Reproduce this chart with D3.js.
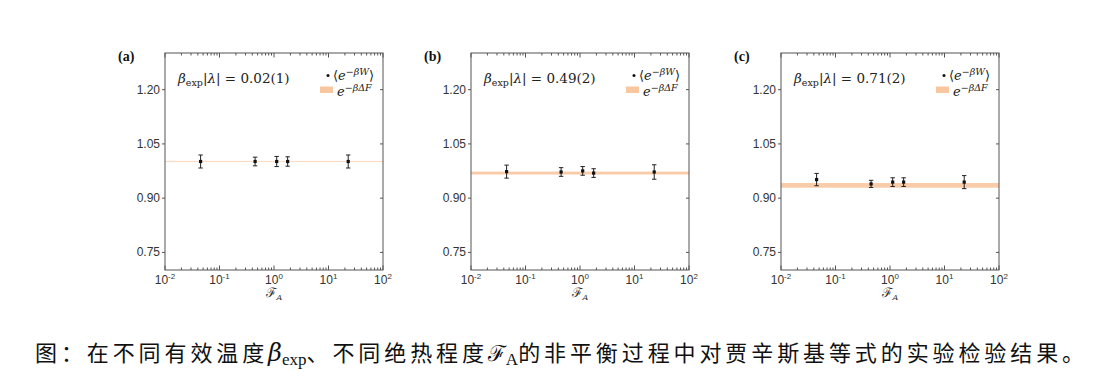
<!DOCTYPE html>
<html>
<head>
<meta charset="utf-8">
<script src="https://cdn.jsdelivr.net/npm/d3@7"></script>
<style>
  body { margin: 0; background: #fff; }
  svg { display: block; }
</style>
</head>
<body>
<div id="chart"></div>
<script>
// --- data ---
const fA = [0.045, 0.45, 1.12, 1.78, 23];          // adiabaticity F_A (x positions)
const panelLabels = ['(a)', '(b)', '(c)'];
const betaLambda = ['0.02(1)', '0.49(2)', '0.71(2)'];

// <e^{-βW}> with error bars, one array per panel
const workA = [1.000, 1.000, 1.000, 1.000, 1.000];
const workErrA = [0.018, 0.012, 0.014, 0.013, 0.018];
const workB = [0.972, 0.971, 0.974, 0.968, 0.971];
const workErrB = [0.018, 0.012, 0.012, 0.012, 0.020];
const workC = [0.950, 0.938, 0.943, 0.943, 0.943];
const workErrC = [0.017, 0.010, 0.012, 0.012, 0.018];

// e^{-βΔF} band (centre and half width)
const freeEnergy = [1.000, 0.968, 0.934];
const freeEnergyErr = [0.0012, 0.004, 0.0065];

const yTicks = [0.75, 0.90, 1.05, 1.20];
const xTicks = [1e-2, 1e-1, 1, 10, 100];
const xTickExp = ['-2', '-1', '0', '1', '2'];

const works = [workA, workB, workC];
const workErrs = [workErrA, workErrB, workErrC];

// --- layout ---
const W = 1120, H = 378;
const panelLeft = [165, 471, 781];
const plotW = 218;
const plotTop = 53, plotBottom = 270;

const axisColor = '#555';
const textColor = '#333';
const bandColor = '#f8c7a0';
const serif = "'DejaVu Serif', 'Liberation Serif', serif";
const sans = "'Liberation Sans', Arial, sans-serif";

const svg = d3.select('#chart').append('svg')
  .attr('width', W)
  .attr('height', H)
  .style('background', '#fff');

panelLeft.forEach((left, i) => {
  const x = d3.scaleLog().domain([1e-2, 1e2]).range([left, left + plotW]);
  const y = d3.scaleLinear().domain([0.70, 1.30]).range([plotBottom, plotTop]);
  const g = svg.append('g');

  // e^{-βΔF} band
  const bandTop = y(freeEnergy[i] + freeEnergyErr[i]);
  const bandH = Math.max(1.2, y(freeEnergy[i] - freeEnergyErr[i]) - bandTop);
  g.append('rect')
    .attr('x', left)
    .attr('y', i === 0 ? y(freeEnergy[i]) - 0.6 : bandTop)
    .attr('width', plotW)
    .attr('height', bandH)
    .attr('fill', bandColor)
    .attr('opacity', i === 0 ? 0.6 : 0.9);

  // frame
  g.append('rect')
    .attr('x', left).attr('y', plotTop)
    .attr('width', plotW).attr('height', plotBottom - plotTop)
    .attr('fill', 'none')
    .attr('stroke', axisColor)
    .attr('stroke-width', 1);

  // y axis left (outward ticks) with labels
  const yAxis = g.append('g')
    .attr('transform', `translate(${left},0)`)
    .call(d3.axisLeft(y).tickValues(yTicks).tickSize(3).tickPadding(2).tickFormat(d3.format('.2f')));
  yAxis.select('.domain').remove();
  yAxis.selectAll('line').attr('stroke', axisColor);
  yAxis.selectAll('text')
    .attr('fill', textColor)
    .style('font-family', sans)
    .style('font-size', '12px');

  // y axis right (inward ticks)
  const yAxisR = g.append('g')
    .attr('transform', `translate(${left + plotW},0)`)
    .call(d3.axisLeft(y).tickValues(yTicks).tickSize(3).tickFormat(''));
  yAxisR.select('.domain').remove();
  yAxisR.selectAll('line').attr('stroke', axisColor);

  // x minor + major ticks, bottom and top, pointing inward
  const minor = x.ticks().filter(v => !xTicks.includes(v));
  [[plotBottom, -1], [plotTop, 1]].forEach(([yy, dir]) => {
    g.selectAll(null)
      .data(minor)
      .join('line')
      .attr('x1', d => x(d)).attr('x2', d => x(d))
      .attr('y1', yy).attr('y2', yy + dir * 2.5)
      .attr('stroke', axisColor);
    g.selectAll(null)
      .data(xTicks)
      .join('line')
      .attr('x1', d => x(d)).attr('x2', d => x(d))
      .attr('y1', yy).attr('y2', yy + dir * 4.5)
      .attr('stroke', axisColor);
  });

  // x tick labels 10^n
  const xl = g.selectAll(null)
    .data(xTicks)
    .join('text')
    .attr('x', d => x(d))
    .attr('y', 284)
    .attr('text-anchor', 'middle')
    .attr('fill', textColor)
    .style('font-family', sans)
    .style('font-size', '12px');
  xl.append('tspan').text('10');
  xl.append('tspan')
    .attr('dy', -5)
    .style('font-size', '8px')
    .text((d, j) => xTickExp[j]);

  // x axis title
  const xt = g.append('text')
    .attr('x', left + plotW / 2)
    .attr('y', 297)
    .attr('text-anchor', 'middle')
    .attr('fill', textColor)
    .style('font-family', serif)
    .style('font-size', '13px');
  xt.append('tspan').text('ℱ');
  xt.append('tspan').attr('dy', 3).style('font-size', '8px').style('font-style', 'italic').text('A');

  // error bars
  const pts = fA.map((f, j) => ({ f, v: works[i][j], e: workErrs[i][j] }));
  g.selectAll(null).data(pts).join('line')
    .attr('x1', d => x(d.f)).attr('x2', d => x(d.f))
    .attr('y1', d => y(d.v + d.e)).attr('y2', d => y(d.v - d.e))
    .attr('stroke', '#222').attr('stroke-width', 1);
  ['+', '-'].forEach(s => {
    g.selectAll(null).data(pts).join('line')
      .attr('x1', d => x(d.f) - 2.2).attr('x2', d => x(d.f) + 2.2)
      .attr('y1', d => y(s === '+' ? d.v + d.e : d.v - d.e))
      .attr('y2', d => y(s === '+' ? d.v + d.e : d.v - d.e))
      .attr('stroke', '#222').attr('stroke-width', 1);
  });
  g.selectAll(null).data(pts).join('rect')
    .attr('x', d => x(d.f) - 1.6).attr('y', d => y(d.v) - 1.6)
    .attr('width', 3.2).attr('height', 3.2)
    .attr('fill', '#111');

  // panel label
  g.append('text')
    .attr('x', left - 47).attr('y', 61)
    .attr('fill', '#111')
    .style('font-family', "'Liberation Serif', serif")
    .style('font-weight', 'bold')
    .style('font-size', '14px')
    .text(panelLabels[i]);

  // β_exp|λ| annotation
  const an = g.append('text')
    .attr('x', left + 13).attr('y', 83)
    .attr('fill', '#222')
    .style('font-family', serif)
    .style('font-size', '13.5px');
  an.append('tspan').style('font-style', 'italic').text('β');
  an.append('tspan').attr('dy', 3).style('font-size', '9.5px').text('exp');
  an.append('tspan').attr('dy', -3).text('|');
  an.append('tspan').style('font-style', 'italic').text('λ');
  an.append('tspan').text('| = ' + betaLambda[i]);

  // legend
  const lx = left + plotW - 63;
  g.append('circle')
    .attr('cx', lx + 8).attr('cy', 75.5).attr('r', 1.5).attr('fill', '#111');
  const l1 = g.append('text')
    .attr('x', lx + 13).attr('y', 80)
    .attr('fill', '#222')
    .style('font-family', serif)
    .style('font-size', '13px');
  l1.append('tspan').text('⟨');
  l1.append('tspan').style('font-style', 'italic').text('e');
  l1.append('tspan').attr('dy', -5).style('font-size', '9.5px').style('font-style', 'italic').text('−βW');
  l1.append('tspan').attr('dy', 5).text('⟩');

  g.append('rect')
    .attr('x', lx).attr('y', 86.5).attr('width', 13).attr('height', 6.5)
    .attr('fill', bandColor);
  const l2 = g.append('text')
    .attr('x', lx + 17).attr('y', 96)
    .attr('fill', '#222')
    .style('font-family', serif)
    .style('font-size', '13px');
  l2.append('tspan').style('font-style', 'italic').text('e');
  l2.append('tspan').attr('dy', -5).style('font-size', '9.5px').style('font-style', 'italic').text('−βΔF');
});

// caption
const cjk = "'Noto Sans CJK SC', sans-serif";
const cap = svg.append('text')
  .attr('x', 35).attr('y', 361)
  .attr('fill', '#111')
  .style('font-size', '22px');
cap.append('tspan').style('font-family', cjk).style('letter-spacing', '3.9px').text('图：在不同有效温度');
cap.append('tspan').style('font-family', serif).style('font-style', 'italic').style('font-size', '24px').text('β');
cap.append('tspan').attr('dy', 4).style('font-family', "'Liberation Serif', serif").style('font-size', '17px').text('exp');
cap.append('tspan').attr('dy', -4).style('font-family', cjk).style('letter-spacing', '3.9px').text('、不同绝热程度');
cap.append('tspan').style('font-family', serif).style('font-size', '22px').text('ℱ');
cap.append('tspan').attr('dy', 4).style('font-family', "'Liberation Serif', serif").style('font-size', '17px').text('A');
cap.append('tspan').attr('dy', -4).style('font-family', cjk).style('letter-spacing', '3.9px').text('的非平衡过程中对贾辛斯基等式的实验检验结果。');
</script>
</body>
</html>
